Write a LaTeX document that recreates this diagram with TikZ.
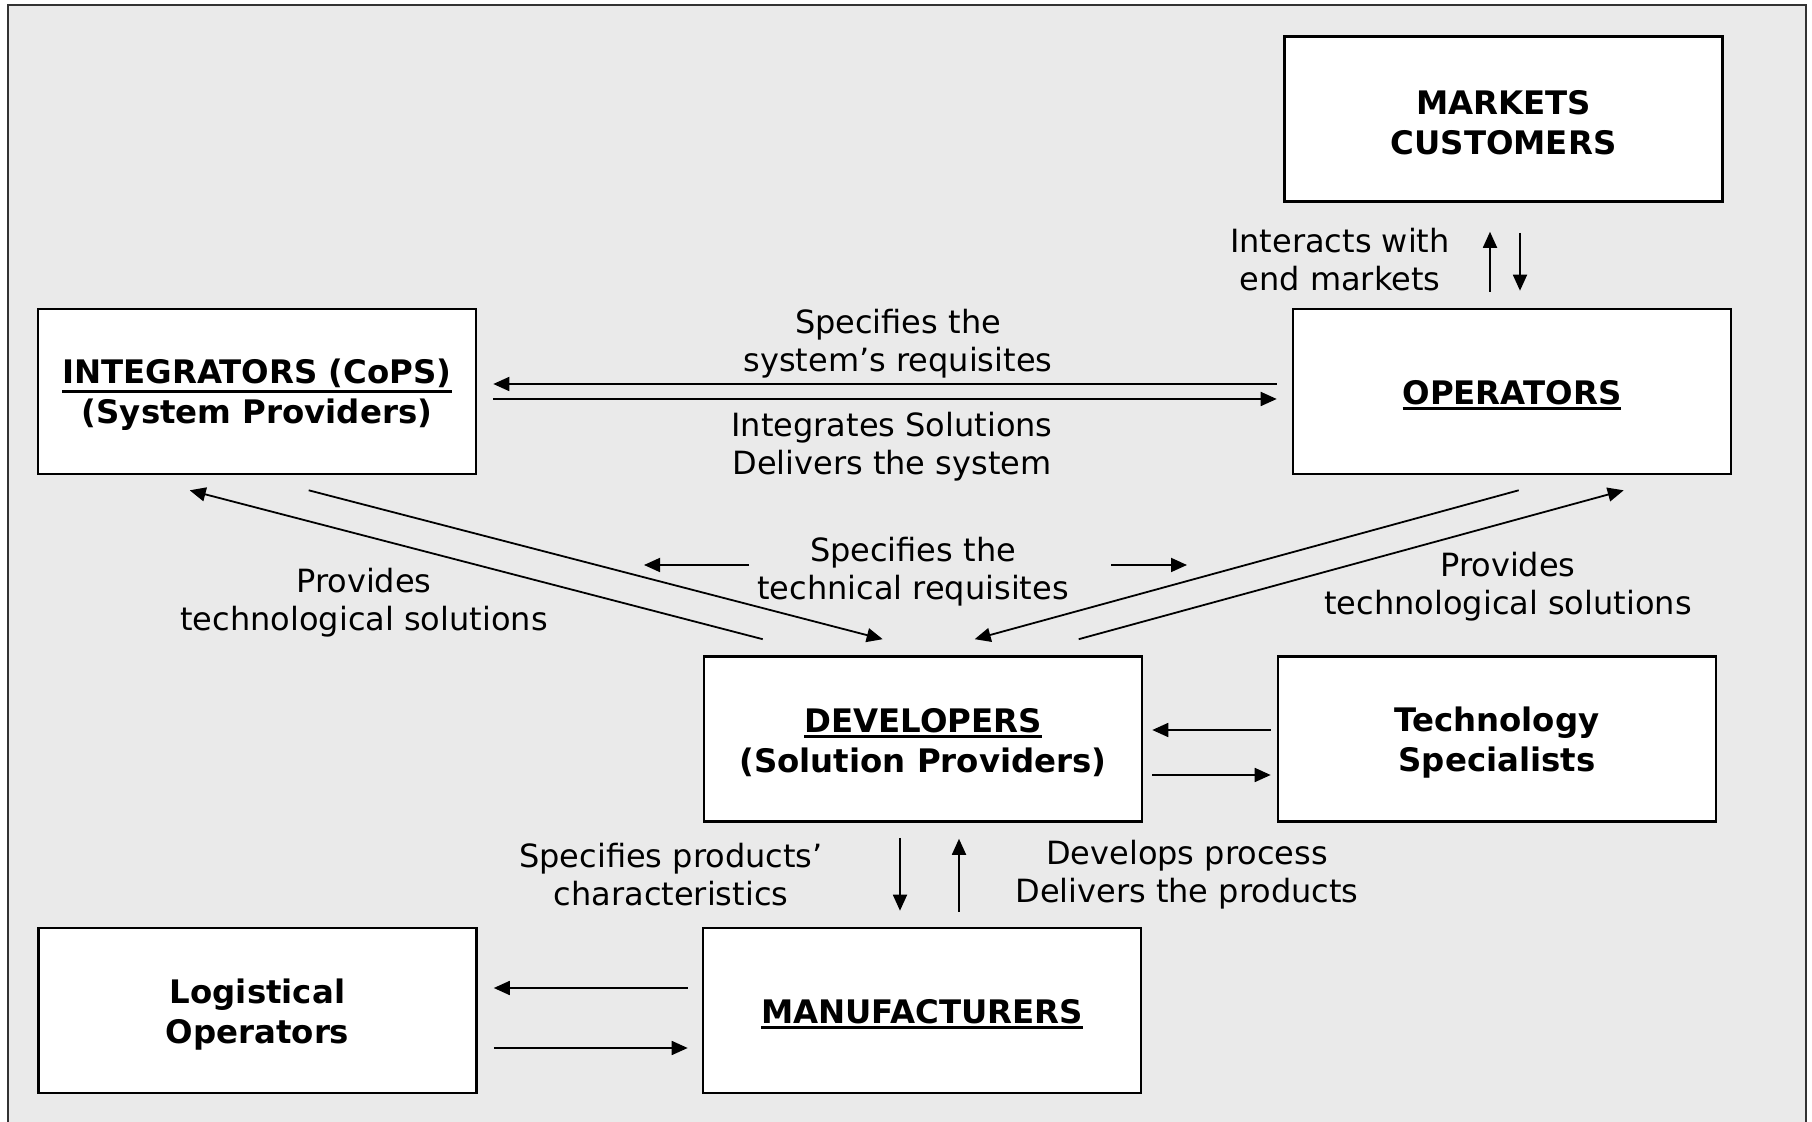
\documentclass[tikz,border=0pt]{standalone}
\usepackage{fontspec}
\setmainfont{DejaVu Sans}
\usetikzlibrary{arrows.meta,calc}

\definecolor{panel}{HTML}{EAEAEA}
\definecolor{frame}{HTML}{333333}

% underline drawn just below the baseline, with a firm rule
\newcommand\uln[1]{\vtop{\hbox{#1}\kern1pt\hrule height 1.5pt}}

\begin{document}
\begin{tikzpicture}[x=0.5pt,y=-0.5pt,
  box/.style={draw, fill=white, line width=1.3pt,
    minimum width=219pt, minimum height=82.5pt, inner sep=0pt},
  boxtext/.style={align=center, inner sep=0pt, yshift=-1.8pt,
    font=\fontsize{16.2}{20}\selectfont\bfseries},
  lbl/.style={align=center, inner sep=0pt,
    font=\fontsize{16}{19}\selectfont},
  conn/.style={line width=0.9pt, -{Triangle[length=8pt,width=7pt]}}]

\useasboundingbox (0,0) rectangle (1812,1122);
\clip (0,0) rectangle (1812,1122);
\fill[white] (0,0) rectangle (1812,1122);
\draw[fill=panel, draw=frame, line width=1pt] (8,5) rectangle (1806,1150);

% actors
\node[box, label={[boxtext]center:{MARKETS\\CUSTOMERS}}] (mkt) at (1503.5,119) {};
\node[box, label={[boxtext]center:{\uln{INTEGRATORS (CoPS)}\\(System Providers)}}] (int) at (257,391.5) {};
\node[box, label={[boxtext]center:{\uln{OPERATORS}}}] (opr) at (1512,391.5) {};
\node[box, label={[boxtext]center:{\uln{DEVELOPERS}\\(Solution Providers)}}] (dev) at (923,739) {};
\node[box, label={[boxtext]center:{Technology\\Specialists}}] (tech) at (1497,739) {};
\node[box, label={[boxtext]center:{Logistical\\Operators}}] (log) at (257.5,1010.5) {};
\node[box, label={[boxtext]center:{\uln{MANUFACTURERS}}}] (man) at (922,1010.5) {};

% relation labels
\node[lbl] (l1) at (898,344)  {Specifies the\\system’s requisites};
\node[lbl] (l2) at (892,447)  {Integrates Solutions\\Delivers the system};
\node[lbl] (l3) at (1340,260) {Interacts with\\end markets};
\node[lbl] (l4) at (913,572)  {Specifies the\\technical requisites};
\node[lbl] (l5) at (364,603)  {Provides\\technological solutions};
\node[lbl] (l6) at (1508,587) {Provides\\technological solutions};
\node[lbl] (l7) at (671,875)  {Specifies products’\\characteristics};
\node[lbl] (l8) at (1187,875) {Develops process\\Delivers the products};

% operators <-> integrators
\draw[conn] ($(opr.west)+(-15,-7.5)$) -- ($(int.east)+(16,-7.5)$);
\draw[conn] ($(int.east)+(16,7.5)$) -- ($(opr.west)+(-15,7.5)$);

% operators <-> markets
\draw[conn] ($(opr.north)+(-22,-16)$) -- ($(mkt.south)+(-13.5,29)$);
\draw[conn] ($(mkt.south)+(16.5,30)$) -- ($(opr.north)+(8,-17)$);

% developers <-> integrators
\draw[conn] ($(dev.north west)+(60,-16)$) -- ($(int.south west)+(153,15)$);
\draw[conn] ($(int.south west)+(272,15)$) -- ($(dev.north west)+(180,-16)$);

% developers <-> operators
\draw[conn] ($(opr.south west)+(227,15)$) -- ($(dev.north west)+(272,-16)$);
\draw[conn] ($(dev.north west)+(376,-16)$) -- ($(opr.south west)+(332,15)$);

% technical requisites pointers
\draw[conn] ($(l4.center)+(-164,-7)$) -- ($(l4.center)+(-269,-7)$);
\draw[conn] ($(l4.center)+(198,-7)$) -- ($(l4.center)+(274,-7)$);

% developers <-> technology specialists
\draw[conn] ($(tech.west)+(-6,-9)$) -- ($(dev.east)+(9,-9)$);
\draw[conn] ($(dev.east)+(9,36)$) -- ($(tech.west)+(-6,36)$);

% developers <-> manufacturers
\draw[conn] ($(dev.south)+(-23,15)$) -- ($(man.north)+(-22,-16)$);
\draw[conn] ($(man.north)+(37,-15)$) -- ($(dev.south)+(36,16)$);

% manufacturers <-> logistical operators
\draw[conn] ($(man.west)+(-14,-22.5)$) -- ($(log.east)+(16,-22.5)$);
\draw[conn] ($(log.east)+(16,37.5)$) -- ($(man.west)+(-14,37.5)$);
\end{tikzpicture}
\end{document}
